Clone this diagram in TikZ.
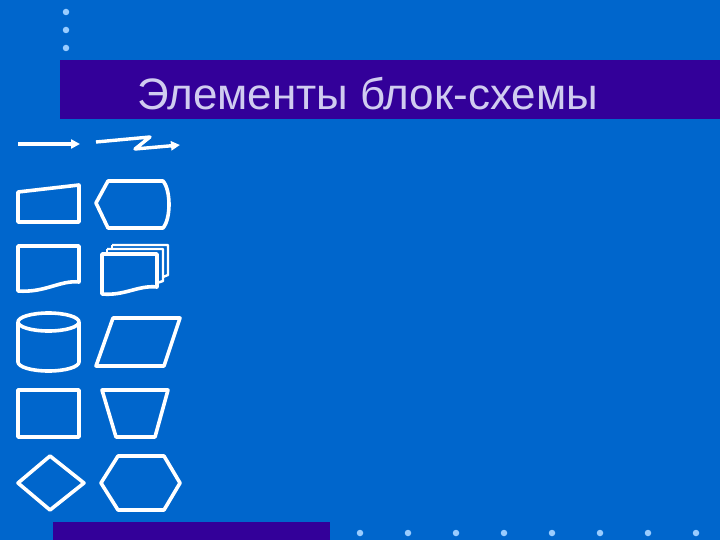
\documentclass[tikz,border=0pt]{standalone}
\usepackage{fontspec}
\setmainfont{Liberation Sans}
\usetikzlibrary{arrows.meta}
\definecolor{bg}{HTML}{0066CC}
\definecolor{bar}{HTML}{330099}
\definecolor{ttl}{HTML}{D0CCF0}
\definecolor{dot}{HTML}{99CCFF}
\tikzset{
  shp/.style={draw=white, line width=3.6pt, line join=round},
  thinshp/.style={draw=white, line width=2.4pt, line join=round},
  arr/.style={draw=white, line width=3.4pt, -{Triangle[length=9pt,width=9pt]}},
  bullet/.style={circle, fill=dot, inner sep=0pt, minimum size=6.5pt}
}
\begin{document}
\begin{tikzpicture}[x=1pt,y=-1pt]
\fill[bg] (0,0) rectangle (720,540);
\useasboundingbox (0,0) rectangle (720,540);
% top dots
\foreach \yy [count=\i] in {12,30,48} \node[bullet] (td\i) at (66,\yy) {};
% title bar
\fill[bar] (60,60) rectangle (720,119);
\node[anchor=base west, text=ttl, inner sep=0pt, font=\fontsize{44}{52}\selectfont] (title) at (137,110) {Элементы блок-схемы};
% bottom bar and dots
\fill[bar] (53,522) rectangle (330,540);
\foreach \xx [count=\i] in {360,408,456,504,552,600,648,696} \node[bullet] (bd\i) at (\xx,533) {};
% arrows
\coordinate (a1s) at (18,144); \coordinate (a1e) at (80,144);
\draw[arr] (a1s) -- (a1e);
\coordinate (a2s) at (96,142); \coordinate (a2b) at (150,137); \coordinate (a2c) at (135,149); \coordinate (a2e) at (180,145);
\draw[arr, line join=round] (a2s) -- (a2b) -- (a2c) -- (a2e);
% manual input
\draw[shp] (18,192) -- (79,185) -- (79,222) -- (18,222) -- cycle;
% display
\draw[shp] (96,203) -- (108,181) -- (163,181) .. controls (171,190) and (171,219) .. (163,228) -- (108,228) -- cycle;
% document
\draw[shp] (18,246) -- (79,246) -- (79,282) .. controls (60,280) and (45,293) .. (18,291) -- cycle;
% multi document
\draw[thinshp] (112,245) -- (168,245) -- (168,275) -- (163,277);
\draw[thinshp] (112,245) -- (112,249);
\draw[thinshp] (107,249) -- (163,249) -- (163,281) -- (157,283);
\draw[thinshp] (107,249) -- (107,253);
\draw[shp] (102,254) -- (157,254) -- (157,287) .. controls (138,285) and (125,296) .. (102,294) -- cycle;
% cylinder
\draw[shp] (18,322) -- (18,362) arc[start angle=180, end angle=0, x radius=30.5, y radius=9] -- (79,322);
\draw[shp] (48.5,322) ellipse[x radius=30.5, y radius=9];
% parallelogram
\draw[shp] (113,318) -- (180,318) -- (164,366) -- (96,366) -- cycle;
% rectangle
\draw[shp] (18,390) rectangle (79,437);
% trapezoid
\draw[shp] (102,390) -- (168,390) -- (155,437) -- (116,437) -- cycle;
% diamond
\draw[shp] (18,483) -- (50,456) -- (84,483) -- (50,510) -- cycle;
% hexagon
\draw[shp] (101,483) -- (118,456) -- (164,456) -- (180,483) -- (164,510) -- (118,510) -- cycle;
\end{tikzpicture}
\end{document}
